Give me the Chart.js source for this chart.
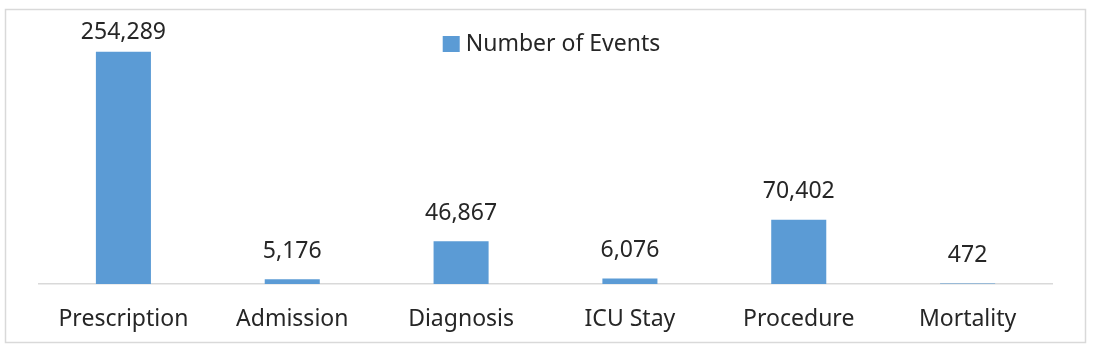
<!DOCTYPE html>
<html>
<head>
<meta charset="utf-8">
<script src="https://cdn.jsdelivr.net/npm/chart.js@4.4.1/dist/chart.umd.min.js"></script>
<style>
  html, body { margin: 0; padding: 0; background: #fff; }
  #wrap { width: 1093px; height: 348px; position: relative; }
</style>
</head>
<body>
<div id="wrap"><canvas id="c"></canvas></div>
<script>
const categories = ["Prescription", "Admission", "Diagnosis", "ICU Stay", "Procedure", "Mortality"];
const eventCounts = [254289, 5176, 46867, 6076, 70402, 472];
const seriesName = "Number of Events";
const yMax = 300000;

const FONT = '"Noto Sans", "Open Sans", sans-serif';
const TEXT = '#262626';
const BAR = '#5B9BD5';

const frame = {
  id: 'frame',
  beforeDraw(chart) {
    const ctx = chart.ctx;
    ctx.save();
    ctx.fillStyle = '#fff';
    ctx.fillRect(0, 0, chart.width, chart.height);
    ctx.strokeStyle = '#d9d9d9';
    ctx.lineWidth = 1.5;
    ctx.strokeRect(5.5, 9.5, 1080, 333);
    ctx.restore();
  }
};

const valueLabels = {
  id: 'valueLabels',
  afterDatasetsDraw(chart) {
    const ctx = chart.ctx;
    const meta = chart.getDatasetMeta(0);
    const data = chart.data.datasets[0].data;
    ctx.save();
    ctx.font = '23px ' + FONT;
    ctx.fillStyle = TEXT;
    ctx.textAlign = 'center';
    ctx.textBaseline = 'middle';
    meta.data.forEach((bar, i) => {
      const y = Math.max(bar.y - 28, chart.chartArea.top + 22);
      ctx.fillText(data[i].toLocaleString('en-US'), bar.x, y);
    });
    ctx.restore();
  }
};

const customLegend = {
  id: 'customLegend',
  afterDraw(chart) {
    const ctx = chart.ctx;
    const ds = chart.data.datasets[0];
    ctx.save();
    ctx.font = '23px ' + FONT;
    const tw = ctx.measureText(ds.label).width;
    const box = 17, gap = 6;
    const total = box + gap + tw;
    const cx = (chart.chartArea.left + chart.chartArea.right) / 2 + 6;
    const x0 = cx - total / 2;
    const cy = 44;
    ctx.fillStyle = ds.backgroundColor;
    ctx.fillRect(x0, cy - 8, box, 16);
    ctx.fillStyle = TEXT;
    ctx.textAlign = 'left';
    ctx.textBaseline = 'middle';
    ctx.fillText(ds.label, x0 + box + gap, cy);
    ctx.restore();
  }
};

new Chart(document.getElementById('c'), {
  type: 'bar',
  data: {
    labels: categories,
    datasets: [{
      label: seriesName,
      data: eventCounts,
      backgroundColor: BAR,
      borderWidth: 0,
      barPercentage: 0.326,
      categoryPercentage: 1.0
    }]
  },
  options: {
    responsive: true,
    maintainAspectRatio: false,
    animation: false,
    layout: { padding: { left: 39, right: 41, top: 10, bottom: 14 } },
    plugins: {
      legend: { display: false },
      tooltip: { enabled: false }
    },
    scales: {
      x: {
        afterFit(scale) { scale.height = 50; },
        grid: { display: false, drawTicks: false },
        border: { display: true, color: '#d9d9d9', width: 1.5 },
        ticks: { color: TEXT, font: { family: FONT, size: 23 }, padding: 22, maxRotation: 0, autoSkip: false }
      },
      y: {
        display: false,
        min: 0,
        max: yMax
      }
    }
  },
  plugins: [frame, valueLabels, customLegend]
});
</script>
</body>
</html>
